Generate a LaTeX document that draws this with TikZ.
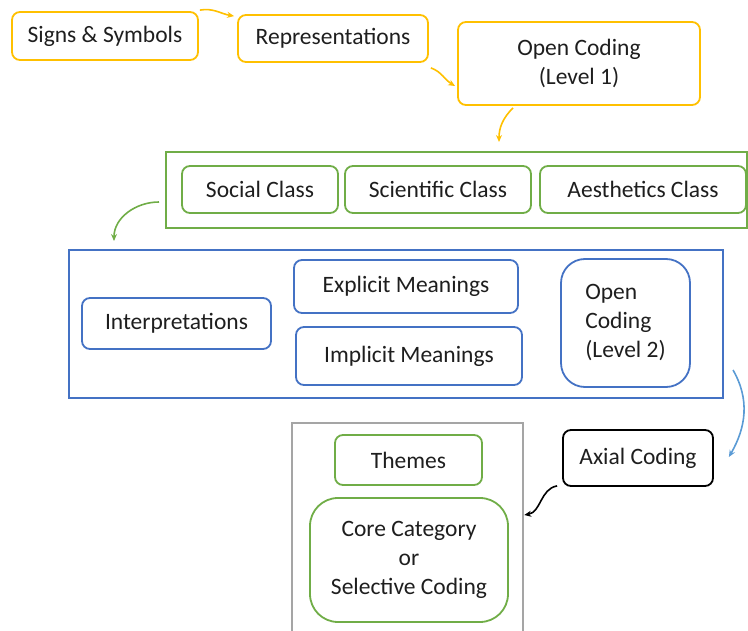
\documentclass[tikz,border=0pt]{standalone}
\usepackage{fontspec}
\setmainfont{Carlito}
\usetikzlibrary{arrows.meta}
\definecolor{codeyellow}{HTML}{FFC000}
\definecolor{codegreen}{HTML}{70AD47}
\definecolor{codeblue}{HTML}{4472C4}
\definecolor{arrowblue}{HTML}{5B9BD5}
\definecolor{codegray}{HTML}{A5A5A5}
\definecolor{codetext}{HTML}{1E1E1E}
\begin{document}
\begin{tikzpicture}[x=1pt,y=1pt,
  every node/.style={font=\fontsize{23.5}{29}\selectfont,text=codetext,inner sep=0pt},
  ybox/.style={draw=codeyellow,line width=1.8pt,rounded corners=8pt},
  gbox/.style={draw=codegreen,line width=1.8pt,rounded corners=8pt},
  bbox/.style={draw=codeblue,line width=1.8pt,rounded corners=8pt},
  flow/.style={line width=1.6pt,-{Stealth[length=7pt,width=6pt]}}]
\useasboundingbox (0,-631) rectangle (748,0);
\clip (0,-631) rectangle (748,0);
\node[ybox,minimum width=186pt,minimum height=48pt] (signs) at (105,-36) {Signs \& Symbols};
\node[ybox,minimum width=190pt,minimum height=47pt] (repr) at (333,-38.5) {Representations};
\node[ybox,minimum width=242pt,minimum height=83pt,align=center] (oc1) at (579,-63.5) {Open Coding\\(Level 1)};
\node[draw=codegreen,line width=2pt,minimum width=581pt,minimum height=76pt] (classes) at (456.5,-190) {};
\node[gbox,minimum width=156pt,minimum height=47pt] (social) at (260,-189.5) {Social Class};
\node[gbox,minimum width=186pt,minimum height=47pt] (scientific) at (438,-189.5) {Scientific Class};
\node[gbox,minimum width=206pt,minimum height=47pt] (aesthetics) at (643,-189.5) {Aesthetics Class};
\node[draw=codeblue,line width=2pt,minimum width=654pt,minimum height=148pt] (meanings) at (396,-324) {};
\node[bbox,minimum width=189pt,minimum height=51pt] (interp) at (176.5,-323.5) {Interpretations};
\node[bbox,minimum width=224pt,minimum height=53pt] (explicit) at (406,-286.5) {Explicit Meanings};
\node[bbox,minimum width=226pt,minimum height=58pt] (implicit) at (409,-356) {Implicit Meanings};
\node[bbox,rounded corners=24pt,minimum width=129pt,minimum height=128pt,align=left] (oc2) at (625.5,-323) {Open\\Coding\\(Level 2)};
\node[draw=black,line width=1.8pt,rounded corners=8pt,minimum width=150pt,minimum height=56pt] (axial) at (638,-458) {Axial Coding};
\node[draw=codegray,line width=2.5pt,minimum width=231pt,minimum height=220pt] (results) at (407.5,-533) {};
\node[gbox,minimum width=147pt,minimum height=50pt] (themes) at (408.5,-460) {Themes};
\node[gbox,rounded corners=28pt,minimum width=198pt,minimum height=124pt,align=center] (core) at (409,-560) {Core Category\\or\\Selective Coding};
\draw[flow,codeyellow] ([xshift=1pt,yshift=1pt]signs.north east) to[out=10,in=170] ([xshift=-3pt,yshift=-2pt]repr.north west);
\draw[flow,codeyellow] ([xshift=2pt,yshift=-5pt]repr.south east) to[out=-20,in=150] ([xshift=-2pt,yshift=-22.5pt]oc1.west);
\draw[flow,codeyellow] ([xshift=-66pt,yshift=-2pt]oc1.south) to[out=225,in=90] ([xshift=42.5pt,yshift=9pt]classes.north);
\draw[flow,codegreen] ([xshift=-6pt,yshift=-12pt]classes.west) to[out=180,in=90] ([xshift=46pt,yshift=8pt]meanings.north west);
\draw[flow,arrowblue] ([xshift=9pt,yshift=-46pt]meanings.east) to[out=-60,in=60] ([xshift=15pt,yshift=1pt]axial.east);
\draw[flow,black] ([xshift=-5pt,yshift=1pt]axial.south west) to[out=190,in=10] ([yshift=18pt]results.east);
\end{tikzpicture}
\end{document}
